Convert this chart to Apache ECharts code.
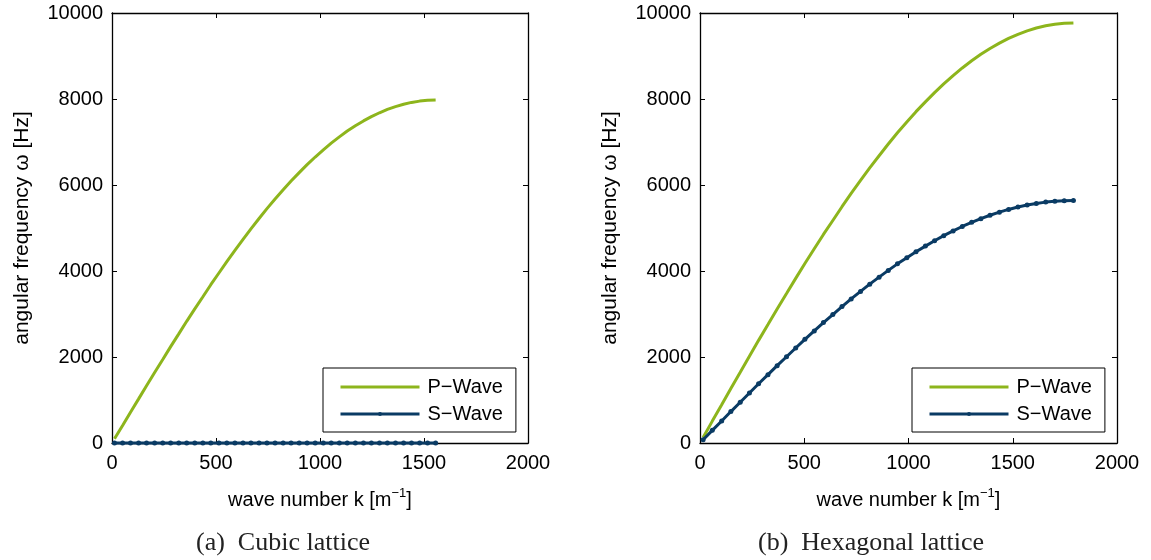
<!DOCTYPE html>
<html>
<head>
<meta charset="utf-8">
<script src="https://cdn.jsdelivr.net/npm/echarts@6/dist/echarts.min.js"></script>
<style>
  html, body { margin: 0; padding: 0; background: #fff; }
  #chart { width: 1151px; height: 560px; }
</style>
</head>
<body>
<div id="chart"></div>
<script>
// Wave numbers k [1/m] sampled for each lattice
const kCubic = [12, 51, 89, 128, 166, 205, 244, 282, 321, 359, 398, 437, 475, 514, 552, 591, 630, 668, 707, 745,
  784, 823, 861, 900, 938, 977, 1016, 1054, 1093, 1131, 1170, 1209, 1247, 1286, 1324, 1363, 1402, 1440, 1479, 1517, 1556];
const kHex = [15, 59, 104, 148, 193, 237, 281, 326, 370, 415, 459, 503, 548, 592, 637, 681, 725, 770, 814, 859,
  903, 947, 992, 1036, 1081, 1125, 1169, 1214, 1258, 1303, 1347, 1391, 1436, 1480, 1525, 1569, 1613, 1658, 1702, 1747, 1791];

// Angular frequency ω [Hz], cubic lattice
const pCubic = [97, 407, 717, 1026, 1333, 1639, 1941, 2241, 2538, 2830, 3119, 3402, 3681, 3954, 4220, 4481, 4734, 4980, 5220, 5450,
  5673, 5887, 6092, 6288, 6473, 6651, 6816, 6973, 7119, 7254, 7377, 7490, 7591, 7680, 7758, 7824, 7878, 7921, 7951, 7969, 7975];
const sCubic = [0, 0, 0, 0, 0, 0, 0, 0, 0, 0, 0, 0, 0, 0, 0, 0, 0, 0, 0, 0,
  0, 0, 0, 0, 0, 0, 0, 0, 0, 0, 0, 0, 0, 0, 0, 0, 0, 0, 0, 0, 0];

// Angular frequency ω [Hz], hexagonal lattice
const pHex = [129, 509, 888, 1266, 1643, 2016, 2387, 2754, 3117, 3475, 3828, 4175, 4516, 4850, 5175, 5495, 5804, 6106, 6399, 6681,
  6954, 7216, 7467, 7706, 7933, 8149, 8352, 8544, 8722, 8888, 9039, 9176, 9300, 9409, 9505, 9585, 9652, 9703, 9740, 9763, 9770];
const sHex = [74, 294, 513, 731, 948, 1164, 1378, 1590, 1799, 2006, 2210, 2410, 2607, 2800, 2988, 3172, 3351, 3525, 3694, 3857,
  4014, 4166, 4310, 4448, 4579, 4704, 4822, 4932, 5035, 5131, 5218, 5297, 5368, 5432, 5487, 5533, 5572, 5602, 5623, 5636, 5640];

const seriesNames = ['P\u2212Wave', 'S\u2212Wave'];
const captions = ['(a)  Cubic lattice', '(b)  Hexagonal lattice'];
const xTicks = { min: 0, max: 2000, interval: 500 };
const yTicks = { min: 0, max: 10000, interval: 2000 };

const GREEN = '#8db51c';
const NAVY = '#0a3b64';
const SANS = '"Liberation Sans", Arial, sans-serif';

const pairs = (ks, ws) => ks.map((k, i) => [k, ws[i]]);

const grids = [
  { left: 112, right: 623, top: 13, bottom: 117 },
  { left: 700, right: 34, top: 13, bottom: 117 }
];

const axisLine = { show: true, onZero: false, lineStyle: { color: '#000', width: 1.3 } };
const axisTick = { show: true, inside: true, length: 5, lineStyle: { color: '#000', width: 1 } };
const labelStyle = { color: '#000', fontSize: 20, fontFamily: SANS, formatter: v => String(v) };

const xAxes = [];
const yAxes = [];
grids.forEach((g, gi) => {
  // bottom (labelled) and top (mirror) x axes
  xAxes.push({
    type: 'value', gridIndex: gi, position: 'bottom', ...xTicks,
    axisLine, axisTick, splitLine: { show: false },
    axisLabel: { ...labelStyle, margin: 10 },
    name: 'wave number k [m{sup|\u22121}]',
    nameLocation: 'middle', nameGap: 44,
    nameTextStyle: {
      color: '#000', fontSize: 20, fontFamily: SANS, lineHeight: 26,
      rich: { sup: { fontSize: 13, fontFamily: SANS, color: '#000', verticalAlign: 'top', lineHeight: 14 } }
    }
  });
  xAxes.push({
    type: 'value', gridIndex: gi, position: 'top', ...xTicks,
    axisLine, axisTick, splitLine: { show: false }, axisLabel: { show: false }
  });
  // left (labelled) and right (mirror) y axes
  yAxes.push({
    type: 'value', gridIndex: gi, position: 'left', ...yTicks,
    axisLine, axisTick, splitLine: { show: false },
    axisLabel: { ...labelStyle, margin: 9 },
    name: 'angular frequency \u03c9 [Hz]',
    nameLocation: 'middle', nameGap: 79,
    nameTextStyle: { color: '#000', fontSize: 21, fontFamily: SANS }
  });
  yAxes.push({
    type: 'value', gridIndex: gi, position: 'right', ...yTicks,
    axisLine, axisTick, splitLine: { show: false }, axisLabel: { show: false }
  });
});

function pSeries(gi, data) {
  return {
    name: seriesNames[0], type: 'line', xAxisIndex: gi * 2, yAxisIndex: gi * 2,
    data, symbol: 'none', clip: false,
    lineStyle: { color: GREEN, width: 3 }, itemStyle: { color: GREEN },
    z: 3
  };
}
function sSeries(gi, data) {
  return {
    name: seriesNames[1], type: 'line', xAxisIndex: gi * 2, yAxisIndex: gi * 2,
    data, symbol: 'circle', symbolSize: 5, showSymbol: true, clip: false,
    lineStyle: { color: NAVY, width: 3 }, itemStyle: { color: NAVY },
    z: 4
  };
}

function legendAt(left) {
  return {
    orient: 'vertical', left, top: 368,
    data: [
      { name: seriesNames[0], itemStyle: { color: 'rgba(0,0,0,0)', opacity: 0 }, lineStyle: { color: GREEN, width: 3, opacity: 1 } },
      { name: seriesNames[1], itemStyle: { color: NAVY }, lineStyle: { color: NAVY, width: 3 } }
    ],
    itemWidth: 79, itemHeight: 5, itemGap: 7,
    padding: [9, 13, 8, 16],
    borderColor: '#000', borderWidth: 1, backgroundColor: '#fff',
    textStyle: { color: '#000', fontSize: 20, fontFamily: SANS, padding: [0, 0, 0, 3] },
    selectedMode: false
  };
}

const chart = echarts.init(document.getElementById('chart'), null, { renderer: 'canvas' });
chart.setOption({
  backgroundColor: '#fff',
  animation: false,
  grid: grids,
  xAxis: xAxes,
  yAxis: yAxes,
  legend: [legendAt(323), legendAt(912)],
  series: [
    pSeries(0, pairs(kCubic, pCubic)),
    sSeries(0, pairs(kCubic, sCubic)),
    pSeries(1, pairs(kHex, pHex)),
    sSeries(1, pairs(kHex, sHex))
  ],
  graphic: [
    { type: 'text', x: 283, y: 543, style: { text: captions[0], fill: '#222', font: '26px "Liberation Serif", serif', align: 'center', verticalAlign: 'middle' } },
    { type: 'text', x: 871, y: 543, style: { text: captions[1], fill: '#222', font: '26px "Liberation Serif", serif', align: 'center', verticalAlign: 'middle' } }
  ]
});
</script>
</body>
</html>
